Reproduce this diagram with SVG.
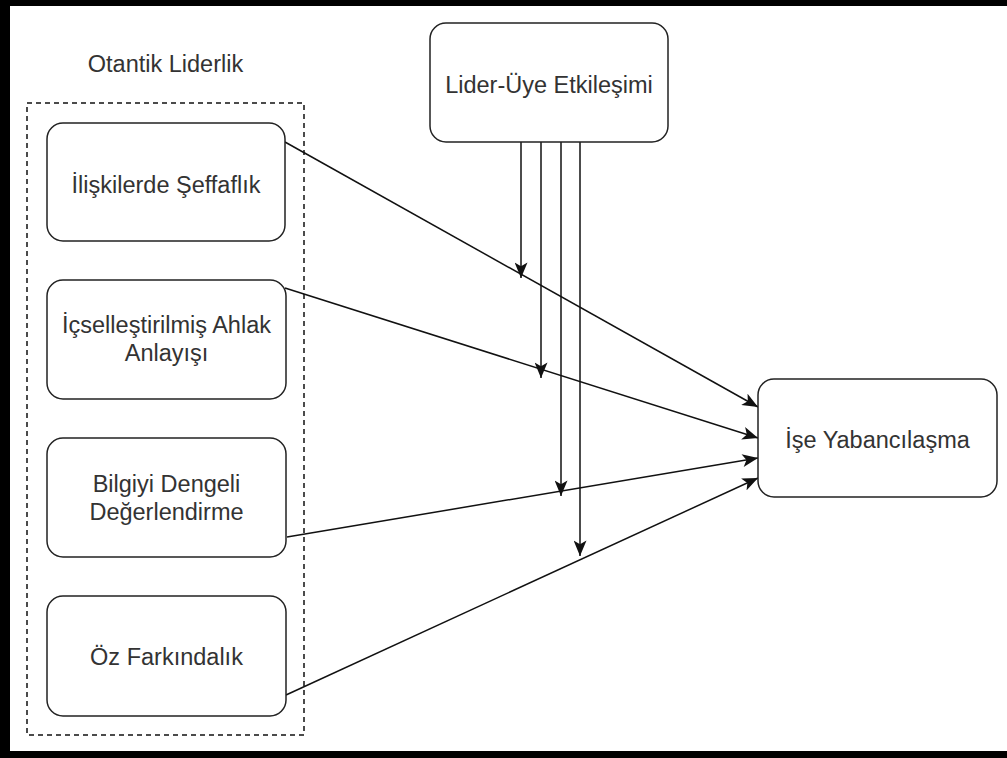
<svg xmlns="http://www.w3.org/2000/svg" width="1007" height="758" viewBox="0 0 1007 758">
  <style>
    .node { fill: #ffffff; stroke: #222; stroke-width: 1.5; }
    .lbl { font-family: "Liberation Sans", Arial, sans-serif; font-size: 23.5px; fill: #333; text-anchor: middle; }
    .edge { stroke: #111; stroke-width: 1.5; fill: none; marker-end: url(#arrow); }
  </style>
  <defs>
    <marker id="arrow" viewBox="0 0 12 10" refX="12" refY="5" markerWidth="16" markerHeight="13" markerUnits="userSpaceOnUse" orient="auto">
      <path d="M0,0 L12,5 L0,10 L3,5 z" fill="#111"/>
    </marker>
  </defs>
  <rect x="0" y="0" width="1007" height="758" fill="#ffffff"/>
  <g id="frame">
    <rect x="0" y="0" width="1007" height="6" fill="#000"/>
    <rect x="0" y="0" width="10" height="758" fill="#000"/>
    <rect x="0" y="751" width="1007" height="7" fill="#000"/>
  </g>
  <g id="otantik-liderlik">
    <rect x="27" y="103" width="277" height="632" fill="none" stroke="#111" stroke-width="1.5" stroke-dasharray="5 4"/>
    <text class="lbl" x="165.5" y="72">Otantik Liderlik</text>
  </g>
  <g id="connectors">
    <line class="edge" x1="285" y1="142" x2="758" y2="407"/>
    <line class="edge" x1="285" y1="288" x2="758" y2="438"/>
    <line class="edge" x1="287" y1="537" x2="758" y2="458"/>
    <line class="edge" x1="286" y1="695" x2="758" y2="478"/>
    <line class="edge" x1="521" y1="142" x2="521" y2="278"/>
    <line class="edge" x1="541" y1="142" x2="541" y2="378"/>
    <line class="edge" x1="561" y1="142" x2="561" y2="496"/>
    <line class="edge" x1="580" y1="142" x2="580" y2="556"/>
  </g>
  <g id="iliskilerde-seffaflik">
    <rect class="node" x="47" y="123" width="238" height="118" rx="16"/>
    <text class="lbl" x="166" y="193">İlişkilerde Şeffaflık</text>
  </g>
  <g id="icsellestirilmis-ahlak">
    <rect class="node" x="47" y="280" width="239" height="119" rx="16"/>
    <text class="lbl" x="166.5" y="333">İçselleştirilmiş Ahlak</text>
    <text class="lbl" x="166.5" y="361">Anlayışı</text>
  </g>
  <g id="bilgiyi-dengeli">
    <rect class="node" x="47" y="438" width="239" height="119" rx="16"/>
    <text class="lbl" x="166.5" y="492">Bilgiyi Dengeli</text>
    <text class="lbl" x="166.5" y="520">Değerlendirme</text>
  </g>
  <g id="oz-farkindalik">
    <rect class="node" x="47" y="596" width="239" height="120" rx="16"/>
    <text class="lbl" x="166.5" y="665">Öz Farkındalık</text>
  </g>
  <g id="lider-uye">
    <rect class="node" x="430" y="23" width="238" height="119" rx="16"/>
    <text class="lbl" x="549" y="93">Lider-Üye Etkileşimi</text>
  </g>
  <g id="ise-yabancilasma">
    <rect class="node" x="758" y="379" width="239" height="118" rx="16"/>
    <text class="lbl" x="877.5" y="448">İşe Yabancılaşma</text>
  </g>
</svg>
